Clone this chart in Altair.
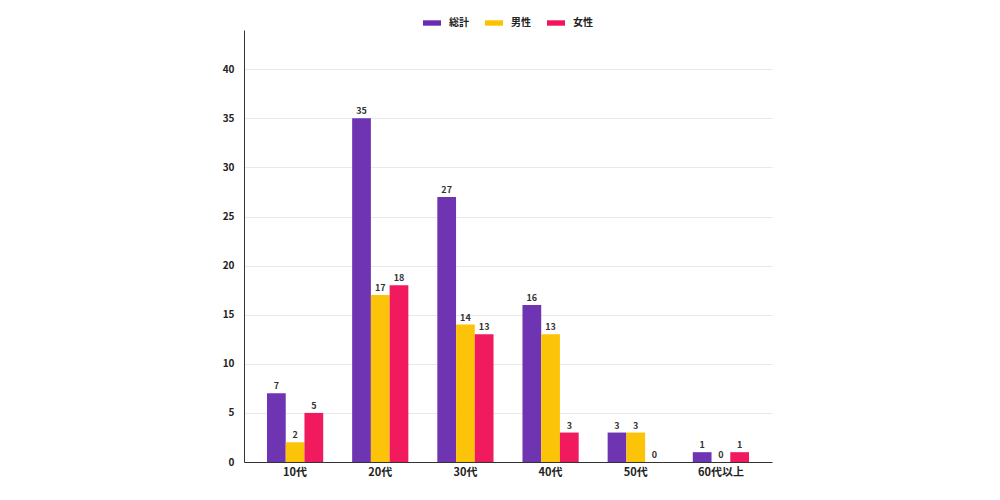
import altair as alt
import pandas as pd

ages = ["10代", "20代", "30代", "40代", "50代", "60代以上"]
series = ["総計", "男性", "女性"]
total = [7, 35, 27, 16, 3, 1]
male = [2, 17, 14, 13, 3, 0]
female = [5, 18, 13, 3, 0, 1]
colors = ["#6a2db0", "#fcc200", "#f2135a"]

rows = []
for i, a in enumerate(ages):
    for s, vals in zip(series, [total, male, female]):
        rows.append({"age": a, "series": s, "value": vals[i]})
df = pd.DataFrame(rows)

FONT = "Noto Sans CJK JP"

x = alt.X("age:N", sort=ages, title=None,
          scale=alt.Scale(paddingInner=0.34, paddingOuter=0.27),
          axis=alt.Axis(labelAngle=0, ticks=False, domainColor="#333333",
                        labelFont=FONT, labelFontSize=11, labelFontWeight="bold",
                        labelColor="#222222", labelPadding=4, grid=False))
xo = alt.XOffset("series:N", sort=series, scale=alt.Scale(paddingInner=0, paddingOuter=0))

base = alt.Chart(df)

bars = base.mark_bar(opacity=0.97).encode(
    x=x,
    xOffset=xo,
    y=alt.Y("value:Q", title=None,
            scale=alt.Scale(domain=[0, 44], nice=False),
            axis=alt.Axis(values=[0, 5, 10, 15, 20, 25, 30, 35, 40], ticks=False,
                          domainColor="#333333", gridColor="#e9e9e9",
                          labelFont=FONT, labelFontSize=10, labelFontWeight="bold",
                          labelColor="#222222", labelPadding=10)),
    color=alt.Color("series:N", sort=series,
                    scale=alt.Scale(domain=series, range=colors),
                    legend=alt.Legend(title=None, orient="none", direction="horizontal",
                                      legendX=179, legendY=-16,
                                      symbolType="M-1,-0.3H1V0.3H-1Z", symbolSize=324,
                                      symbolStrokeWidth=0, symbolOpacity=1,
                                      labelFont=FONT, labelFontSize=10,
                                      labelFontWeight="bold", labelColor="#222222",
                                      columnPadding=16, labelOffset=8, padding=0)),
)

labels = base.mark_text(dy=-7, font=FONT, fontSize=9, fontWeight="bold",
                        color="#333333").encode(
    x=x,
    xOffset=xo,
    y=alt.Y("value:Q"),
    text=alt.Text("value:Q"),
)

chart = (bars + labels).properties(
    width=528, height=432,
    autosize=alt.AutoSizeParams(type="none"),
    padding={"left": 236, "top": 22, "right": 10, "bottom": 30},
    background="white",
).configure_view(stroke=None)

chart.save("out.html", embed_options={"renderer": "svg", "actions": False})
